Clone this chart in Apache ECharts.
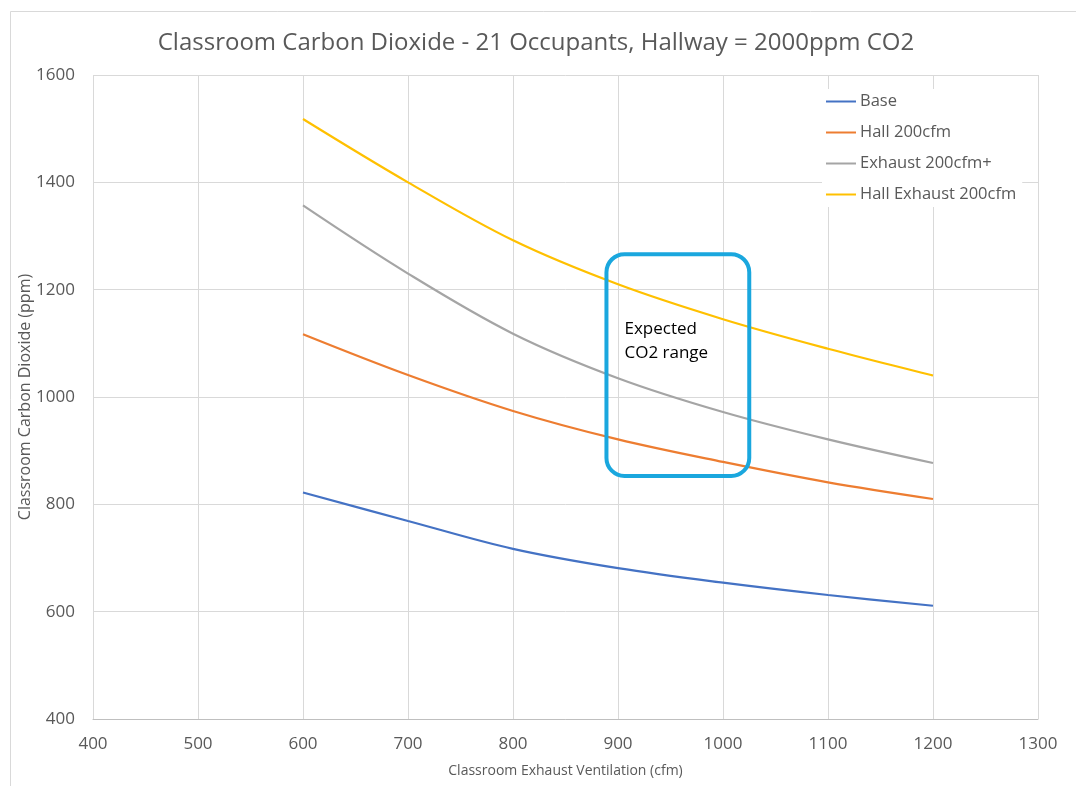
<!DOCTYPE html>
<html>
<head>
<meta charset="utf-8">
<script src="https://cdn.jsdelivr.net/npm/echarts@6/dist/echarts.min.js"></script>
<style>
html,body{margin:0;padding:0;background:#fff;}
#chart{width:1076px;height:786px;}
</style>
</head>
<body>
<div id="chart"></div>
<script>
var xValues = [600, 700, 800, 900, 1000, 1100, 1200];
var seriesNames = ['Base', 'Hall 200cfm', 'Exhaust 200cfm+', 'Hall Exhaust 200cfm'];
var baseValues = [822, 769, 717, 681, 654, 631, 611];
var hallValues = [1117, 1041, 974, 921, 879, 841, 810];
var exhaustValues = [1357, 1230, 1118, 1035, 972, 921, 877];
var hallExhaustValues = [1518, 1400, 1292, 1210, 1145, 1090, 1040];
var boxX = [889, 1025];
var boxY = [853, 1266];
var boxLabel = 'Expected\nCO2 range';
var colors = ['#4472C4', '#ED7D31', '#A5A5A5', '#FFC000'];
var FONT = 'Open Sans';

function pairs(vals) { return xValues.map(function (x, i) { return [x, vals[i]]; }); }
var allValues = [baseValues, hallValues, exhaustValues, hallExhaustValues];
function plain(v) { return String(v); }

var chart = echarts.init(document.getElementById('chart'), null, { renderer: 'canvas' });
var option = {
  backgroundColor: '#fff',
  animation: false,
  color: colors,
  title: {
    text: 'Classroom Carbon Dioxide - 21 Occupants, Hallway = 2000ppm CO2',
    left: 531, top: 26, textAlign: 'center',
    textStyle: { fontFamily: FONT, fontSize: 24, fontWeight: 'normal', color: '#595959' }
  },
  legend: {
    orient: 'vertical', left: 822, top: 89,
    data: seriesNames,
    icon: 'rect', itemWidth: 30, itemHeight: 2, itemGap: 14,
    backgroundColor: '#fff', padding: [4, 6, 4, 4],
    textStyle: { fontFamily: FONT, fontSize: 16.5, color: '#595959', padding: [0, 0, 0, -1] }
  },
  grid: { left: 93, right: 38, top: 75, bottom: 67, containLabel: false },
  xAxis: {
    type: 'value', min: 400, max: 1300, interval: 100,
    name: 'Classroom Exhaust Ventilation (cfm)', nameLocation: 'middle', nameGap: 45,
    nameMoveOverlap: false,
    nameTextStyle: { fontFamily: FONT, fontSize: 14, color: '#595959' },
    axisLine: { show: true, lineStyle: { color: '#BFBFBF', width: 1 } },
    axisTick: { show: false },
    axisLabel: { fontFamily: FONT, fontSize: 17, color: '#595959', margin: 17, formatter: plain },
    splitLine: { show: true, lineStyle: { color: '#D9D9D9', width: 1 } }
  },
  yAxis: {
    type: 'value', min: 400, max: 1600, interval: 200,
    name: 'Classroom Carbon Dioxide (ppm)', nameLocation: 'middle', nameGap: 60,
    nameMoveOverlap: false,
    nameTextStyle: { fontFamily: FONT, fontSize: 16, color: '#595959' },
    axisLine: { show: false },
    axisTick: { show: false },
    axisLabel: { fontFamily: FONT, fontSize: 17, color: '#595959', margin: 18, formatter: plain },
    splitLine: { show: true, lineStyle: { color: '#D9D9D9', width: 1 } }
  },
  series: seriesNames.map(function (n, i) {
    return {
      name: n, type: 'line', smooth: 0.35, showSymbol: false, symbol: 'none',
      data: pairs(allValues[i]),
      lineStyle: { width: 2.2, color: colors[i] },
      itemStyle: { color: colors[i] },
      z: 3
    };
  })
};
chart.setOption(option);

var p1 = chart.convertToPixel({ xAxisIndex: 0, yAxisIndex: 0 }, [boxX[0], boxY[1]]);
var p2 = chart.convertToPixel({ xAxisIndex: 0, yAxisIndex: 0 }, [boxX[1], boxY[0]]);
chart.setOption({
  graphic: [
    {
      type: 'rect', left: 8, top: 9, z: -1, silent: true,
      shape: { width: 1100, height: 800 },
      style: { fill: 'none', stroke: '#D9D9D9', lineWidth: 1 }
    },
    {
      type: 'rect', x: p1[0], y: p1[1], z: 10, silent: true,
      shape: { width: p2[0] - p1[0], height: p2[1] - p1[1], r: 18 },
      style: { fill: 'none', stroke: '#1AA7DE', lineWidth: 4 }
    },
    {
      type: 'text', x: p1[0] + 18, y: p1[1] + 63, z: 11, silent: true,
      style: { text: boxLabel, fontFamily: FONT, fontSize: 17, fill: '#000', lineHeight: 24 }
    }
  ]
});
</script>
</body>
</html>
